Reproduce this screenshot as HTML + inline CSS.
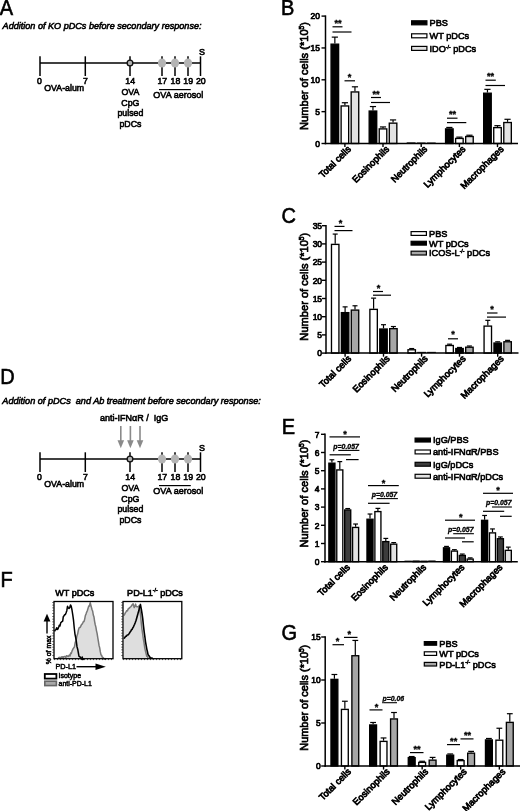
<!DOCTYPE html>
<html><head><meta charset="utf-8"><title>Figure</title>
<style>html,body{margin:0;padding:0;background:#fff}svg{display:block;filter:blur(0.28px)}text{font-family:'Liberation Sans', Arial, Helvetica, sans-serif}</style>
</head><body>
<svg width="520" height="811" viewBox="0 0 520 811">
<rect width="520" height="811" fill="#fff"/>
<text transform="translate(-0.2 15.2) scale(0.9346 1)" font-size="21.4" text-anchor="start" font-weight="normal" fill="#000" stroke="#000" stroke-width="0.6" >A</text>
<text transform="translate(2.6 29) scale(0.9346 1)" font-size="9.74" text-anchor="start" font-weight="normal" font-style="italic" fill="#000" stroke="#000" stroke-width="0.6" >Addition of KO pDCs before secondary response:</text>
<line x1="40" y1="63" x2="200.5" y2="63" stroke="#000" stroke-width="1.5" stroke-linecap="butt"/>
<line x1="40" y1="56.3" x2="40" y2="76" stroke="#000" stroke-width="1.5" stroke-linecap="butt"/>
<line x1="85.3" y1="56.3" x2="85.3" y2="76" stroke="#000" stroke-width="1.5" stroke-linecap="butt"/>
<line x1="130" y1="56.3" x2="130" y2="76" stroke="#000" stroke-width="1.5" stroke-linecap="butt"/>
<line x1="200.5" y1="56.3" x2="200.5" y2="76" stroke="#000" stroke-width="1.5" stroke-linecap="butt"/>
<line x1="162" y1="56.3" x2="162" y2="76" stroke="#000" stroke-width="1.5" stroke-linecap="butt"/>
<ellipse cx="162" cy="63" rx="4.1" ry="4.45" fill="#b4b4b4"/>
<line x1="175" y1="56.3" x2="175" y2="76" stroke="#000" stroke-width="1.5" stroke-linecap="butt"/>
<ellipse cx="175" cy="63" rx="4.1" ry="4.45" fill="#b4b4b4"/>
<line x1="188" y1="56.3" x2="188" y2="76" stroke="#000" stroke-width="1.5" stroke-linecap="butt"/>
<ellipse cx="188" cy="63" rx="4.1" ry="4.45" fill="#b4b4b4"/>
<circle cx="130" cy="63" r="2.85" fill="#b0b0b0" stroke="#111" stroke-width="1.35"/>
<text transform="translate(39.5 83.6) scale(0.9346 1)" font-size="9.31" text-anchor="middle" font-weight="normal" fill="#000" stroke="#000" stroke-width="0.6" >0</text>
<text transform="translate(85.5 83.6) scale(0.9346 1)" font-size="9.31" text-anchor="middle" font-weight="normal" fill="#000" stroke="#000" stroke-width="0.6" >7</text>
<text transform="translate(64.2 91.2) scale(0.9346 1)" font-size="9.42" text-anchor="middle" font-weight="normal" fill="#000" stroke="#000" stroke-width="0.6" >OVA-alum</text>
<text transform="translate(130.2 84.2) scale(0.9346 1)" font-size="9.42" text-anchor="middle" font-weight="normal" fill="#000" stroke="#000" stroke-width="0.6" >14</text>
<text transform="translate(130.4 94.8) scale(0.9346 1)" font-size="9.42" text-anchor="middle" font-weight="normal" fill="#000" stroke="#000" stroke-width="0.6" >OVA</text>
<text transform="translate(130.4 105.5) scale(0.9346 1)" font-size="9.42" text-anchor="middle" font-weight="normal" fill="#000" stroke="#000" stroke-width="0.6" >CpG</text>
<text transform="translate(130.4 116.3) scale(0.9346 1)" font-size="9.42" text-anchor="middle" font-weight="normal" fill="#000" stroke="#000" stroke-width="0.6" >pulsed</text>
<text transform="translate(130.4 127) scale(0.9346 1)" font-size="9.42" text-anchor="middle" font-weight="normal" fill="#000" stroke="#000" stroke-width="0.6" >pDCs</text>
<text transform="translate(162.3 84.2) scale(0.9346 1)" font-size="9.42" text-anchor="middle" font-weight="normal" fill="#000" stroke="#000" stroke-width="0.6" >17</text>
<text transform="translate(175.4 84.2) scale(0.9346 1)" font-size="9.42" text-anchor="middle" font-weight="normal" fill="#000" stroke="#000" stroke-width="0.6" >18</text>
<text transform="translate(188.2 84.2) scale(0.9346 1)" font-size="9.42" text-anchor="middle" font-weight="normal" fill="#000" stroke="#000" stroke-width="0.6" >19</text>
<text transform="translate(200.8 84.2) scale(0.9346 1)" font-size="9.42" text-anchor="middle" font-weight="normal" fill="#000" stroke="#000" stroke-width="0.6" >20</text>
<line x1="159" y1="89.6" x2="190.8" y2="89.6" stroke="#000" stroke-width="1.2" stroke-linecap="butt"/>
<text transform="translate(178.3 98.3) scale(0.9346 1)" font-size="9.68" text-anchor="middle" font-weight="normal" fill="#000" stroke="#000" stroke-width="0.6" >OVA aerosol</text>
<text transform="translate(202 55) scale(0.9346 1)" font-size="9.63" text-anchor="middle" font-weight="normal" fill="#000" stroke="#000" stroke-width="0.6" >S</text>
<text transform="translate(0.3 383.8) scale(0.9346 1)" font-size="21.4" text-anchor="start" font-weight="normal" fill="#000" stroke="#000" stroke-width="0.6" >D</text>
<text transform="translate(2.3 404.3) scale(0.9346 1)" font-size="9.76" text-anchor="start" font-weight="normal" font-style="italic" fill="#000" stroke="#000" stroke-width="0.6" style="white-space:pre">Addition of pDCs&#160; and Ab treatment before secondary response:</text>
<text transform="translate(100 421) scale(0.9346 1)" font-size="9.63" text-anchor="start" font-weight="normal" fill="#000" stroke="#000" stroke-width="0.6" style="white-space:pre">anti-IFN&#945;R /&#160; IgG</text>
<line x1="120.8" y1="426" x2="120.8" y2="442" stroke="#8a8a8a" stroke-width="1.6" stroke-linecap="butt"/>
<path d="M117.5 440.2 L120.8 448.2 L124.1 440.2 Z" fill="#8a8a8a"/>
<line x1="130.4" y1="426" x2="130.4" y2="442" stroke="#8a8a8a" stroke-width="1.6" stroke-linecap="butt"/>
<path d="M127.10000000000001 440.2 L130.4 448.2 L133.70000000000002 440.2 Z" fill="#8a8a8a"/>
<line x1="140" y1="426" x2="140" y2="442" stroke="#8a8a8a" stroke-width="1.6" stroke-linecap="butt"/>
<path d="M136.7 440.2 L140 448.2 L143.3 440.2 Z" fill="#8a8a8a"/>
<line x1="40" y1="459" x2="200.5" y2="459" stroke="#000" stroke-width="1.5" stroke-linecap="butt"/>
<line x1="40" y1="452.3" x2="40" y2="472" stroke="#000" stroke-width="1.5" stroke-linecap="butt"/>
<line x1="85.3" y1="452.3" x2="85.3" y2="472" stroke="#000" stroke-width="1.5" stroke-linecap="butt"/>
<line x1="130" y1="452.3" x2="130" y2="472" stroke="#000" stroke-width="1.5" stroke-linecap="butt"/>
<line x1="200.5" y1="452.3" x2="200.5" y2="472" stroke="#000" stroke-width="1.5" stroke-linecap="butt"/>
<line x1="162" y1="452.3" x2="162" y2="472" stroke="#000" stroke-width="1.5" stroke-linecap="butt"/>
<ellipse cx="162" cy="459" rx="4.1" ry="4.45" fill="#b4b4b4"/>
<line x1="175" y1="452.3" x2="175" y2="472" stroke="#000" stroke-width="1.5" stroke-linecap="butt"/>
<ellipse cx="175" cy="459" rx="4.1" ry="4.45" fill="#b4b4b4"/>
<line x1="188" y1="452.3" x2="188" y2="472" stroke="#000" stroke-width="1.5" stroke-linecap="butt"/>
<ellipse cx="188" cy="459" rx="4.1" ry="4.45" fill="#b4b4b4"/>
<circle cx="130" cy="459" r="2.85" fill="#b0b0b0" stroke="#111" stroke-width="1.35"/>
<text transform="translate(39.5 479.6) scale(0.9346 1)" font-size="9.31" text-anchor="middle" font-weight="normal" fill="#000" stroke="#000" stroke-width="0.6" >0</text>
<text transform="translate(85.5 479.6) scale(0.9346 1)" font-size="9.31" text-anchor="middle" font-weight="normal" fill="#000" stroke="#000" stroke-width="0.6" >7</text>
<text transform="translate(64.2 487.2) scale(0.9346 1)" font-size="9.42" text-anchor="middle" font-weight="normal" fill="#000" stroke="#000" stroke-width="0.6" >OVA-alum</text>
<text transform="translate(130.2 480.2) scale(0.9346 1)" font-size="9.42" text-anchor="middle" font-weight="normal" fill="#000" stroke="#000" stroke-width="0.6" >14</text>
<text transform="translate(130.4 490.8) scale(0.9346 1)" font-size="9.42" text-anchor="middle" font-weight="normal" fill="#000" stroke="#000" stroke-width="0.6" >OVA</text>
<text transform="translate(130.4 501.5) scale(0.9346 1)" font-size="9.42" text-anchor="middle" font-weight="normal" fill="#000" stroke="#000" stroke-width="0.6" >CpG</text>
<text transform="translate(130.4 512.3) scale(0.9346 1)" font-size="9.42" text-anchor="middle" font-weight="normal" fill="#000" stroke="#000" stroke-width="0.6" >pulsed</text>
<text transform="translate(130.4 523) scale(0.9346 1)" font-size="9.42" text-anchor="middle" font-weight="normal" fill="#000" stroke="#000" stroke-width="0.6" >pDCs</text>
<text transform="translate(162.3 480.2) scale(0.9346 1)" font-size="9.42" text-anchor="middle" font-weight="normal" fill="#000" stroke="#000" stroke-width="0.6" >17</text>
<text transform="translate(175.4 480.2) scale(0.9346 1)" font-size="9.42" text-anchor="middle" font-weight="normal" fill="#000" stroke="#000" stroke-width="0.6" >18</text>
<text transform="translate(188.2 480.2) scale(0.9346 1)" font-size="9.42" text-anchor="middle" font-weight="normal" fill="#000" stroke="#000" stroke-width="0.6" >19</text>
<text transform="translate(200.8 480.2) scale(0.9346 1)" font-size="9.42" text-anchor="middle" font-weight="normal" fill="#000" stroke="#000" stroke-width="0.6" >20</text>
<line x1="159" y1="485.6" x2="190.8" y2="485.6" stroke="#000" stroke-width="1.2" stroke-linecap="butt"/>
<text transform="translate(178.3 494.3) scale(0.9346 1)" font-size="9.68" text-anchor="middle" font-weight="normal" fill="#000" stroke="#000" stroke-width="0.6" >OVA aerosol</text>
<text transform="translate(202 451) scale(0.9346 1)" font-size="9.63" text-anchor="middle" font-weight="normal" fill="#000" stroke="#000" stroke-width="0.6" >S</text>
<text transform="translate(280.9 14.5) scale(0.9346 1)" font-size="21.4" text-anchor="start" font-weight="normal" fill="#000" stroke="#000" stroke-width="0.6" >B</text>
<line x1="334.84999999999997" y1="43.491" x2="334.84999999999997" y2="37.12100000000001" stroke="#000" stroke-width="1.2" stroke-linecap="butt"/>
<line x1="331.74999999999994" y1="37.12100000000001" x2="337.95" y2="37.12100000000001" stroke="#000" stroke-width="1.2" stroke-linecap="butt"/>
<rect x="331.07" y="44.17" width="7.55" height="99.33" fill="#000" stroke="#000" stroke-width="1.35"/>
<line x1="344.9" y1="105.28" x2="344.9" y2="102.732" stroke="#000" stroke-width="1.2" stroke-linecap="butt"/>
<line x1="341.79999999999995" y1="102.732" x2="348.0" y2="102.732" stroke="#000" stroke-width="1.2" stroke-linecap="butt"/>
<rect x="341.12" y="105.95" width="7.55" height="37.55" fill="#fff" stroke="#000" stroke-width="1.35"/>
<line x1="354.95" y1="91.266" x2="354.95" y2="86.80699999999999" stroke="#000" stroke-width="1.2" stroke-linecap="butt"/>
<line x1="351.84999999999997" y1="86.80699999999999" x2="358.05" y2="86.80699999999999" stroke="#000" stroke-width="1.2" stroke-linecap="butt"/>
<rect x="351.18" y="91.94" width="7.55" height="51.56" fill="#e2e2e2" stroke="#000" stroke-width="1.35"/>
<line x1="372.95" y1="110.376" x2="372.95" y2="106.554" stroke="#000" stroke-width="1.2" stroke-linecap="butt"/>
<line x1="369.84999999999997" y1="106.554" x2="376.05" y2="106.554" stroke="#000" stroke-width="1.2" stroke-linecap="butt"/>
<rect x="369.18" y="111.05" width="7.55" height="32.45" fill="#000" stroke="#000" stroke-width="1.35"/>
<line x1="383.0" y1="128.212" x2="383.0" y2="126.938" stroke="#000" stroke-width="1.2" stroke-linecap="butt"/>
<line x1="379.9" y1="126.938" x2="386.1" y2="126.938" stroke="#000" stroke-width="1.2" stroke-linecap="butt"/>
<rect x="379.23" y="128.89" width="7.55" height="14.61" fill="#fff" stroke="#000" stroke-width="1.35"/>
<line x1="393.05" y1="122.479" x2="393.05" y2="119.931" stroke="#000" stroke-width="1.2" stroke-linecap="butt"/>
<line x1="389.95" y1="119.931" x2="396.15000000000003" y2="119.931" stroke="#000" stroke-width="1.2" stroke-linecap="butt"/>
<rect x="389.28" y="123.15" width="7.55" height="20.35" fill="#e2e2e2" stroke="#000" stroke-width="1.35"/>
<line x1="406.7" y1="142.863" x2="415.59999999999997" y2="142.863" stroke="#000" stroke-width="1.0" stroke-linecap="butt"/>
<line x1="416.75" y1="143.0" x2="425.65" y2="143.0" stroke="#000" stroke-width="1.0" stroke-linecap="butt"/>
<line x1="426.8" y1="143.0" x2="435.7" y2="143.0" stroke="#000" stroke-width="1.0" stroke-linecap="butt"/>
<line x1="449.34999999999997" y1="128.212" x2="449.34999999999997" y2="127.4476" stroke="#000" stroke-width="1.2" stroke-linecap="butt"/>
<line x1="446.24999999999994" y1="127.4476" x2="452.45" y2="127.4476" stroke="#000" stroke-width="1.2" stroke-linecap="butt"/>
<rect x="445.57" y="128.89" width="7.55" height="14.61" fill="#000" stroke="#000" stroke-width="1.35"/>
<line x1="459.4" y1="137.767" x2="459.4" y2="137.13" stroke="#000" stroke-width="1.2" stroke-linecap="butt"/>
<line x1="456.29999999999995" y1="137.13" x2="462.5" y2="137.13" stroke="#000" stroke-width="1.2" stroke-linecap="butt"/>
<rect x="455.62" y="138.44" width="7.55" height="5.06" fill="#fff" stroke="#000" stroke-width="1.35"/>
<line x1="469.45" y1="135.856" x2="469.45" y2="135.219" stroke="#000" stroke-width="1.2" stroke-linecap="butt"/>
<line x1="466.34999999999997" y1="135.219" x2="472.55" y2="135.219" stroke="#000" stroke-width="1.2" stroke-linecap="butt"/>
<rect x="465.68" y="136.53" width="7.55" height="6.97" fill="#e2e2e2" stroke="#000" stroke-width="1.35"/>
<line x1="487.45" y1="92.53999999999999" x2="487.45" y2="89.35499999999999" stroke="#000" stroke-width="1.2" stroke-linecap="butt"/>
<line x1="484.34999999999997" y1="89.35499999999999" x2="490.55" y2="89.35499999999999" stroke="#000" stroke-width="1.2" stroke-linecap="butt"/>
<rect x="483.68" y="93.21" width="7.55" height="50.29" fill="#000" stroke="#000" stroke-width="1.35"/>
<line x1="497.5" y1="126.938" x2="497.5" y2="125.664" stroke="#000" stroke-width="1.2" stroke-linecap="butt"/>
<line x1="494.4" y1="125.664" x2="500.6" y2="125.664" stroke="#000" stroke-width="1.2" stroke-linecap="butt"/>
<rect x="493.73" y="127.61" width="7.55" height="15.89" fill="#fff" stroke="#000" stroke-width="1.35"/>
<line x1="507.55" y1="121.842" x2="507.55" y2="119.294" stroke="#000" stroke-width="1.2" stroke-linecap="butt"/>
<line x1="504.45" y1="119.294" x2="510.65000000000003" y2="119.294" stroke="#000" stroke-width="1.2" stroke-linecap="butt"/>
<rect x="503.78" y="122.52" width="7.55" height="20.98" fill="#e2e2e2" stroke="#000" stroke-width="1.35"/>
<line x1="325.5" y1="15.399999999999995" x2="325.5" y2="144.25" stroke="#000" stroke-width="1.5" stroke-linecap="butt"/>
<line x1="324.75" y1="143.5" x2="518" y2="143.5" stroke="#000" stroke-width="1.5" stroke-linecap="butt"/>
<line x1="321.5" y1="143.5" x2="325.5" y2="143.5" stroke="#000" stroke-width="1.4" stroke-linecap="butt"/>
<text transform="translate(320.0 146.8) scale(0.9346 1)" font-size="9.1" text-anchor="end" font-weight="normal" fill="#000" stroke="#000" stroke-width="0.7" >0</text>
<line x1="321.5" y1="111.65" x2="325.5" y2="111.65" stroke="#000" stroke-width="1.4" stroke-linecap="butt"/>
<text transform="translate(320.0 114.95) scale(0.9346 1)" font-size="9.1" text-anchor="end" font-weight="normal" fill="#000" stroke="#000" stroke-width="0.7" >5</text>
<line x1="321.5" y1="79.8" x2="325.5" y2="79.8" stroke="#000" stroke-width="1.4" stroke-linecap="butt"/>
<text transform="translate(320.0 83.1) scale(0.9346 1)" font-size="9.1" text-anchor="end" font-weight="normal" fill="#000" stroke="#000" stroke-width="0.7" >10</text>
<line x1="321.5" y1="47.95" x2="325.5" y2="47.95" stroke="#000" stroke-width="1.4" stroke-linecap="butt"/>
<text transform="translate(320.0 51.25) scale(0.9346 1)" font-size="9.1" text-anchor="end" font-weight="normal" fill="#000" stroke="#000" stroke-width="0.7" >15</text>
<line x1="321.5" y1="16.099999999999994" x2="325.5" y2="16.099999999999994" stroke="#000" stroke-width="1.4" stroke-linecap="butt"/>
<text transform="translate(320.0 19.399999999999995) scale(0.9346 1)" font-size="9.1" text-anchor="end" font-weight="normal" fill="#000" stroke="#000" stroke-width="0.7" >20</text>
<line x1="344.9" y1="143.5" x2="344.9" y2="147.1" stroke="#000" stroke-width="1.4" stroke-linecap="butt"/>
<text x="351.59999999999997" y="149.7" font-size="9.3" text-anchor="end" font-weight="normal" transform="rotate(-45 351.59999999999997 149.7)" fill="#000" stroke="#000" stroke-width="0.75" >Total cells</text>
<line x1="383.0" y1="143.5" x2="383.0" y2="147.1" stroke="#000" stroke-width="1.4" stroke-linecap="butt"/>
<text x="389.7" y="149.7" font-size="9.3" text-anchor="end" font-weight="normal" transform="rotate(-45 389.7 149.7)" fill="#000" stroke="#000" stroke-width="0.75" >Eosinophils</text>
<line x1="421.2" y1="143.5" x2="421.2" y2="147.1" stroke="#000" stroke-width="1.4" stroke-linecap="butt"/>
<text x="427.9" y="149.7" font-size="9.3" text-anchor="end" font-weight="normal" transform="rotate(-45 427.9 149.7)" fill="#000" stroke="#000" stroke-width="0.75" >Neutrophils</text>
<line x1="459.4" y1="143.5" x2="459.4" y2="147.1" stroke="#000" stroke-width="1.4" stroke-linecap="butt"/>
<text x="466.09999999999997" y="149.7" font-size="9.3" text-anchor="end" font-weight="normal" transform="rotate(-45 466.09999999999997 149.7)" fill="#000" stroke="#000" stroke-width="0.75" >Lymphocytes</text>
<line x1="497.5" y1="143.5" x2="497.5" y2="147.1" stroke="#000" stroke-width="1.4" stroke-linecap="butt"/>
<text x="504.2" y="149.7" font-size="9.3" text-anchor="end" font-weight="normal" transform="rotate(-45 504.2 149.7)" fill="#000" stroke="#000" stroke-width="0.75" >Macrophages</text>
<text x="307.7" y="76" font-size="11.1" text-anchor="middle" transform="rotate(-90 307.7 76)" fill="#000" stroke="#000" stroke-width="0.7">Number of cells (*10<tspan font-size="6.5" dy="-4">5</tspan><tspan dy="4">)</tspan></text>
<rect x="411.60" y="20.80" width="15.30" height="4.00" fill="#000" stroke="#000" stroke-width="1.2"/>
<text transform="translate(429.5 26.1) scale(0.9346 1)" font-size="9.84" text-anchor="start" font-weight="normal" fill="#000" stroke="#000" stroke-width="0.65" >PBS</text>
<rect x="411.60" y="33.80" width="15.30" height="4.00" fill="#fff" stroke="#000" stroke-width="1.2"/>
<text transform="translate(429.5 39.1) scale(0.9346 1)" font-size="9.84" text-anchor="start" font-weight="normal" fill="#000" stroke="#000" stroke-width="0.65" >WT pDCs</text>
<rect x="411.60" y="46.40" width="15.30" height="4.00" fill="#e2e2e2" stroke="#000" stroke-width="1.2"/>
<text transform="translate(429.5 51.7) scale(0.9346 1)" font-size="9.84" text-anchor="start" font-weight="normal" fill="#000" stroke="#000" stroke-width="0.65" >IDO<tspan font-size="5.5" dy="-3.2">-/-</tspan><tspan dy="3.2"> pDCs</tspan></text>
<text transform="translate(338 25.9) scale(0.9346 1)" font-size="9.84" text-anchor="middle" font-weight="bold" fill="#000" stroke="#000" stroke-width="0.35" >**</text>
<line x1="332.5" y1="26.8" x2="342.5" y2="26.8" stroke="#000" stroke-width="1.2" stroke-linecap="butt"/>
<line x1="332.5" y1="32" x2="351.5" y2="32" stroke="#000" stroke-width="1.2" stroke-linecap="butt"/>
<text transform="translate(349.5 79.9) scale(0.9346 1)" font-size="9.84" text-anchor="middle" font-weight="bold" fill="#000" stroke="#000" stroke-width="0.35" >*</text>
<line x1="344.5" y1="80.8" x2="355" y2="80.8" stroke="#000" stroke-width="1.2" stroke-linecap="butt"/>
<text transform="translate(376 96.60000000000001) scale(0.9346 1)" font-size="9.84" text-anchor="middle" font-weight="bold" fill="#000" stroke="#000" stroke-width="0.35" >**</text>
<line x1="371" y1="97.5" x2="381" y2="97.5" stroke="#000" stroke-width="1.2" stroke-linecap="butt"/>
<line x1="371" y1="102.5" x2="390" y2="102.5" stroke="#000" stroke-width="1.2" stroke-linecap="butt"/>
<text transform="translate(452.5 117.3) scale(0.9346 1)" font-size="9.84" text-anchor="middle" font-weight="bold" fill="#000" stroke="#000" stroke-width="0.35" >**</text>
<line x1="447" y1="118.2" x2="457.5" y2="118.2" stroke="#000" stroke-width="1.2" stroke-linecap="butt"/>
<line x1="447" y1="122.6" x2="466.3" y2="122.6" stroke="#000" stroke-width="1.2" stroke-linecap="butt"/>
<text transform="translate(490.5 79.3) scale(0.9346 1)" font-size="9.84" text-anchor="middle" font-weight="bold" fill="#000" stroke="#000" stroke-width="0.35" >**</text>
<line x1="485.5" y1="80.2" x2="495.8" y2="80.2" stroke="#000" stroke-width="1.2" stroke-linecap="butt"/>
<line x1="485.5" y1="85.5" x2="505" y2="85.5" stroke="#000" stroke-width="1.2" stroke-linecap="butt"/>
<text transform="translate(281.5 222.5) scale(0.9346 1)" font-size="21.4" text-anchor="start" font-weight="normal" fill="#000" stroke="#000" stroke-width="0.6" >C</text>
<line x1="335.2" y1="243.71800000000002" x2="335.2" y2="234.072" stroke="#000" stroke-width="1.2" stroke-linecap="butt"/>
<line x1="332.7" y1="234.072" x2="337.7" y2="234.072" stroke="#000" stroke-width="1.2" stroke-linecap="butt"/>
<rect x="331.48" y="244.39" width="7.45" height="108.71" fill="#fff" stroke="#000" stroke-width="1.35"/>
<line x1="345.09999999999997" y1="311.968" x2="345.09999999999997" y2="306.872" stroke="#000" stroke-width="1.2" stroke-linecap="butt"/>
<line x1="342.59999999999997" y1="306.872" x2="347.59999999999997" y2="306.872" stroke="#000" stroke-width="1.2" stroke-linecap="butt"/>
<rect x="341.38" y="312.64" width="7.45" height="40.46" fill="#000" stroke="#000" stroke-width="1.35"/>
<line x1="355.0" y1="309.42" x2="355.0" y2="305.78000000000003" stroke="#000" stroke-width="1.2" stroke-linecap="butt"/>
<line x1="352.5" y1="305.78000000000003" x2="357.5" y2="305.78000000000003" stroke="#000" stroke-width="1.2" stroke-linecap="butt"/>
<rect x="351.28" y="310.10" width="7.45" height="43.01" fill="#a6a6a6" stroke="#000" stroke-width="1.35"/>
<line x1="373.59999999999997" y1="308.692" x2="373.59999999999997" y2="298.136" stroke="#000" stroke-width="1.2" stroke-linecap="butt"/>
<line x1="371.09999999999997" y1="298.136" x2="376.09999999999997" y2="298.136" stroke="#000" stroke-width="1.2" stroke-linecap="butt"/>
<rect x="369.88" y="309.37" width="7.45" height="43.73" fill="#fff" stroke="#000" stroke-width="1.35"/>
<line x1="383.49999999999994" y1="328.348" x2="383.49999999999994" y2="324.708" stroke="#000" stroke-width="1.2" stroke-linecap="butt"/>
<line x1="380.99999999999994" y1="324.708" x2="385.99999999999994" y2="324.708" stroke="#000" stroke-width="1.2" stroke-linecap="butt"/>
<rect x="379.77" y="329.02" width="7.45" height="24.08" fill="#000" stroke="#000" stroke-width="1.35"/>
<line x1="393.4" y1="327.98400000000004" x2="393.4" y2="326.528" stroke="#000" stroke-width="1.2" stroke-linecap="butt"/>
<line x1="390.9" y1="326.528" x2="395.9" y2="326.528" stroke="#000" stroke-width="1.2" stroke-linecap="butt"/>
<rect x="389.68" y="328.66" width="7.45" height="24.44" fill="#a6a6a6" stroke="#000" stroke-width="1.35"/>
<line x1="411.7" y1="349.096" x2="411.7" y2="348.55" stroke="#000" stroke-width="1.2" stroke-linecap="butt"/>
<line x1="409.2" y1="348.55" x2="414.2" y2="348.55" stroke="#000" stroke-width="1.2" stroke-linecap="butt"/>
<rect x="407.98" y="349.77" width="7.45" height="3.33" fill="#fff" stroke="#000" stroke-width="1.35"/>
<line x1="417.2" y1="352.372" x2="426.0" y2="352.372" stroke="#000" stroke-width="1.0" stroke-linecap="butt"/>
<line x1="427.1" y1="352.372" x2="435.90000000000003" y2="352.372" stroke="#000" stroke-width="1.0" stroke-linecap="butt"/>
<line x1="449.59999999999997" y1="344.8372" x2="449.59999999999997" y2="344.182" stroke="#000" stroke-width="1.2" stroke-linecap="butt"/>
<line x1="447.09999999999997" y1="344.182" x2="452.09999999999997" y2="344.182" stroke="#000" stroke-width="1.2" stroke-linecap="butt"/>
<rect x="445.88" y="345.51" width="7.45" height="7.59" fill="#fff" stroke="#000" stroke-width="1.35"/>
<line x1="459.49999999999994" y1="347.8584" x2="459.49999999999994" y2="347.458" stroke="#000" stroke-width="1.2" stroke-linecap="butt"/>
<line x1="456.99999999999994" y1="347.458" x2="461.99999999999994" y2="347.458" stroke="#000" stroke-width="1.2" stroke-linecap="butt"/>
<rect x="455.77" y="348.53" width="7.45" height="4.57" fill="#000" stroke="#000" stroke-width="1.35"/>
<line x1="469.4" y1="346.548" x2="469.4" y2="346.002" stroke="#000" stroke-width="1.2" stroke-linecap="butt"/>
<line x1="466.9" y1="346.002" x2="471.9" y2="346.002" stroke="#000" stroke-width="1.2" stroke-linecap="butt"/>
<rect x="465.68" y="347.22" width="7.45" height="5.88" fill="#a6a6a6" stroke="#000" stroke-width="1.35"/>
<line x1="487.79999999999995" y1="325.43600000000004" x2="487.79999999999995" y2="320.34000000000003" stroke="#000" stroke-width="1.2" stroke-linecap="butt"/>
<line x1="485.29999999999995" y1="320.34000000000003" x2="490.29999999999995" y2="320.34000000000003" stroke="#000" stroke-width="1.2" stroke-linecap="butt"/>
<rect x="484.07" y="326.11" width="7.45" height="26.99" fill="#fff" stroke="#000" stroke-width="1.35"/>
<line x1="497.69999999999993" y1="342.362" x2="497.69999999999993" y2="341.81600000000003" stroke="#000" stroke-width="1.2" stroke-linecap="butt"/>
<line x1="495.19999999999993" y1="341.81600000000003" x2="500.19999999999993" y2="341.81600000000003" stroke="#000" stroke-width="1.2" stroke-linecap="butt"/>
<rect x="493.97" y="343.04" width="7.45" height="10.06" fill="#000" stroke="#000" stroke-width="1.35"/>
<line x1="507.59999999999997" y1="341.088" x2="507.59999999999997" y2="340.36" stroke="#000" stroke-width="1.2" stroke-linecap="butt"/>
<line x1="505.09999999999997" y1="340.36" x2="510.09999999999997" y2="340.36" stroke="#000" stroke-width="1.2" stroke-linecap="butt"/>
<rect x="503.88" y="341.76" width="7.45" height="11.34" fill="#a6a6a6" stroke="#000" stroke-width="1.35"/>
<line x1="326" y1="225.00000000000003" x2="326" y2="353.85" stroke="#000" stroke-width="1.5" stroke-linecap="butt"/>
<line x1="325.25" y1="353.1" x2="518.5" y2="353.1" stroke="#000" stroke-width="1.5" stroke-linecap="butt"/>
<line x1="322" y1="353.1" x2="326" y2="353.1" stroke="#000" stroke-width="1.4" stroke-linecap="butt"/>
<text transform="translate(322.1 356.40000000000003) scale(0.9346 1)" font-size="9.1" text-anchor="end" font-weight="normal" fill="#000" stroke="#000" stroke-width="0.7" >0</text>
<line x1="322" y1="334.90000000000003" x2="326" y2="334.90000000000003" stroke="#000" stroke-width="1.4" stroke-linecap="butt"/>
<text transform="translate(322.1 338.20000000000005) scale(0.9346 1)" font-size="9.1" text-anchor="end" font-weight="normal" fill="#000" stroke="#000" stroke-width="0.7" >5</text>
<line x1="322" y1="316.70000000000005" x2="326" y2="316.70000000000005" stroke="#000" stroke-width="1.4" stroke-linecap="butt"/>
<text transform="translate(322.1 320.00000000000006) scale(0.9346 1)" font-size="9.1" text-anchor="end" font-weight="normal" fill="#000" stroke="#000" stroke-width="0.7" >10</text>
<line x1="322" y1="298.5" x2="326" y2="298.5" stroke="#000" stroke-width="1.4" stroke-linecap="butt"/>
<text transform="translate(322.1 301.8) scale(0.9346 1)" font-size="9.1" text-anchor="end" font-weight="normal" fill="#000" stroke="#000" stroke-width="0.7" >15</text>
<line x1="322" y1="280.3" x2="326" y2="280.3" stroke="#000" stroke-width="1.4" stroke-linecap="butt"/>
<text transform="translate(322.1 283.6) scale(0.9346 1)" font-size="9.1" text-anchor="end" font-weight="normal" fill="#000" stroke="#000" stroke-width="0.7" >20</text>
<line x1="322" y1="262.1" x2="326" y2="262.1" stroke="#000" stroke-width="1.4" stroke-linecap="butt"/>
<text transform="translate(322.1 265.40000000000003) scale(0.9346 1)" font-size="9.1" text-anchor="end" font-weight="normal" fill="#000" stroke="#000" stroke-width="0.7" >25</text>
<line x1="322" y1="243.90000000000003" x2="326" y2="243.90000000000003" stroke="#000" stroke-width="1.4" stroke-linecap="butt"/>
<text transform="translate(322.1 247.20000000000005) scale(0.9346 1)" font-size="9.1" text-anchor="end" font-weight="normal" fill="#000" stroke="#000" stroke-width="0.7" >30</text>
<line x1="322" y1="225.70000000000002" x2="326" y2="225.70000000000002" stroke="#000" stroke-width="1.4" stroke-linecap="butt"/>
<text transform="translate(322.1 229.00000000000003) scale(0.9346 1)" font-size="9.1" text-anchor="end" font-weight="normal" fill="#000" stroke="#000" stroke-width="0.7" >35</text>
<line x1="345.1" y1="353.1" x2="345.1" y2="356.70000000000005" stroke="#000" stroke-width="1.4" stroke-linecap="butt"/>
<text x="351.8" y="359.3" font-size="9.3" text-anchor="end" font-weight="normal" transform="rotate(-45 351.8 359.3)" fill="#000" stroke="#000" stroke-width="0.75" >Total cells</text>
<line x1="383.5" y1="353.1" x2="383.5" y2="356.70000000000005" stroke="#000" stroke-width="1.4" stroke-linecap="butt"/>
<text x="390.2" y="359.3" font-size="9.3" text-anchor="end" font-weight="normal" transform="rotate(-45 390.2 359.3)" fill="#000" stroke="#000" stroke-width="0.75" >Eosinophils</text>
<line x1="421.6" y1="353.1" x2="421.6" y2="356.70000000000005" stroke="#000" stroke-width="1.4" stroke-linecap="butt"/>
<text x="428.3" y="359.3" font-size="9.3" text-anchor="end" font-weight="normal" transform="rotate(-45 428.3 359.3)" fill="#000" stroke="#000" stroke-width="0.75" >Neutrophils</text>
<line x1="459.5" y1="353.1" x2="459.5" y2="356.70000000000005" stroke="#000" stroke-width="1.4" stroke-linecap="butt"/>
<text x="466.2" y="359.3" font-size="9.3" text-anchor="end" font-weight="normal" transform="rotate(-45 466.2 359.3)" fill="#000" stroke="#000" stroke-width="0.75" >Lymphocytes</text>
<line x1="497.7" y1="353.1" x2="497.7" y2="356.70000000000005" stroke="#000" stroke-width="1.4" stroke-linecap="butt"/>
<text x="504.4" y="359.3" font-size="9.3" text-anchor="end" font-weight="normal" transform="rotate(-45 504.4 359.3)" fill="#000" stroke="#000" stroke-width="0.75" >Macrophages</text>
<text x="307.8" y="286.7" font-size="11.1" text-anchor="middle" transform="rotate(-90 307.8 286.7)" fill="#000" stroke="#000" stroke-width="0.7">Number of cells (*10<tspan font-size="6.5" dy="-4">5</tspan><tspan dy="4">)</tspan></text>
<rect x="411.10" y="231.60" width="15.30" height="3.80" fill="#fff" stroke="#000" stroke-width="1.2"/>
<text transform="translate(429 236.8) scale(0.9346 1)" font-size="9.84" text-anchor="start" font-weight="normal" fill="#000" stroke="#000" stroke-width="0.65" >PBS</text>
<rect x="411.10" y="241.30" width="15.30" height="3.80" fill="#000" stroke="#000" stroke-width="1.2"/>
<text transform="translate(429 246.5) scale(0.9346 1)" font-size="9.84" text-anchor="start" font-weight="normal" fill="#000" stroke="#000" stroke-width="0.65" >WT pDCs</text>
<rect x="411.10" y="251.20" width="15.30" height="3.80" fill="#a6a6a6" stroke="#000" stroke-width="1.2"/>
<text transform="translate(429 256.4) scale(0.9346 1)" font-size="9.84" text-anchor="start" font-weight="normal" fill="#000" stroke="#000" stroke-width="0.65" >ICOS-L<tspan font-size="5.5" dy="-3.2">-/-</tspan><tspan dy="3.2"> pDCs</tspan></text>
<text transform="translate(281.7 433.5) scale(0.9346 1)" font-size="21.4" text-anchor="start" font-weight="normal" fill="#000" stroke="#000" stroke-width="0.6" >E</text>
<line x1="331.9" y1="462.51000000000005" x2="331.9" y2="459.7800000000001" stroke="#000" stroke-width="1.2" stroke-linecap="butt"/>
<line x1="329.5" y1="459.7800000000001" x2="334.29999999999995" y2="459.7800000000001" stroke="#000" stroke-width="1.2" stroke-linecap="butt"/>
<rect x="328.88" y="463.19" width="6.05" height="98.52" fill="#000" stroke="#000" stroke-width="1.35"/>
<line x1="339.79999999999995" y1="469.244" x2="339.79999999999995" y2="461.6" stroke="#000" stroke-width="1.2" stroke-linecap="butt"/>
<line x1="337.4" y1="461.6" x2="342.19999999999993" y2="461.6" stroke="#000" stroke-width="1.2" stroke-linecap="butt"/>
<rect x="336.77" y="469.92" width="6.05" height="91.78" fill="#fff" stroke="#000" stroke-width="1.35"/>
<line x1="347.7" y1="509.28400000000005" x2="347.7" y2="508.55600000000004" stroke="#000" stroke-width="1.2" stroke-linecap="butt"/>
<line x1="345.3" y1="508.55600000000004" x2="350.09999999999997" y2="508.55600000000004" stroke="#000" stroke-width="1.2" stroke-linecap="butt"/>
<rect x="344.68" y="509.96" width="6.05" height="51.74" fill="#3c3c3c" stroke="#000" stroke-width="1.35"/>
<line x1="355.59999999999997" y1="526.7560000000001" x2="355.59999999999997" y2="524.0260000000001" stroke="#000" stroke-width="1.2" stroke-linecap="butt"/>
<line x1="353.2" y1="524.0260000000001" x2="357.99999999999994" y2="524.0260000000001" stroke="#000" stroke-width="1.2" stroke-linecap="butt"/>
<rect x="352.57" y="527.43" width="6.05" height="34.27" fill="#e2e2e2" stroke="#000" stroke-width="1.35"/>
<line x1="370.0" y1="518.566" x2="370.0" y2="514.0160000000001" stroke="#000" stroke-width="1.2" stroke-linecap="butt"/>
<line x1="367.6" y1="514.0160000000001" x2="372.4" y2="514.0160000000001" stroke="#000" stroke-width="1.2" stroke-linecap="butt"/>
<rect x="366.98" y="519.24" width="6.05" height="42.46" fill="#000" stroke="#000" stroke-width="1.35"/>
<line x1="377.9" y1="510.922" x2="377.9" y2="508.374" stroke="#000" stroke-width="1.2" stroke-linecap="butt"/>
<line x1="375.5" y1="508.374" x2="380.29999999999995" y2="508.374" stroke="#000" stroke-width="1.2" stroke-linecap="butt"/>
<rect x="374.88" y="511.60" width="6.05" height="50.10" fill="#fff" stroke="#000" stroke-width="1.35"/>
<line x1="385.8" y1="540.952" x2="385.8" y2="538.404" stroke="#000" stroke-width="1.2" stroke-linecap="butt"/>
<line x1="383.40000000000003" y1="538.404" x2="388.2" y2="538.404" stroke="#000" stroke-width="1.2" stroke-linecap="butt"/>
<rect x="382.78" y="541.63" width="6.05" height="20.07" fill="#3c3c3c" stroke="#000" stroke-width="1.35"/>
<line x1="393.7" y1="543.5" x2="393.7" y2="542.59" stroke="#000" stroke-width="1.2" stroke-linecap="butt"/>
<line x1="391.3" y1="542.59" x2="396.09999999999997" y2="542.59" stroke="#000" stroke-width="1.2" stroke-linecap="butt"/>
<rect x="390.68" y="544.17" width="6.05" height="17.53" fill="#e2e2e2" stroke="#000" stroke-width="1.35"/>
<line x1="404.5" y1="561.154" x2="411.9" y2="561.154" stroke="#000" stroke-width="1.0" stroke-linecap="butt"/>
<rect x="413.07" y="561.10" width="6.05" height="0.60" fill="#fff" stroke="#000" stroke-width="1.35"/>
<rect x="420.98" y="561.28" width="6.05" height="0.42" fill="#3c3c3c" stroke="#000" stroke-width="1.35"/>
<line x1="428.2" y1="560.9720000000001" x2="435.59999999999997" y2="560.9720000000001" stroke="#000" stroke-width="1.0" stroke-linecap="butt"/>
<line x1="446.5" y1="547.1400000000001" x2="446.5" y2="546.412" stroke="#000" stroke-width="1.2" stroke-linecap="butt"/>
<line x1="444.1" y1="546.412" x2="448.9" y2="546.412" stroke="#000" stroke-width="1.2" stroke-linecap="butt"/>
<rect x="443.48" y="547.82" width="6.05" height="13.88" fill="#000" stroke="#000" stroke-width="1.35"/>
<line x1="454.4" y1="550.416" x2="454.4" y2="549.6880000000001" stroke="#000" stroke-width="1.2" stroke-linecap="butt"/>
<line x1="452.0" y1="549.6880000000001" x2="456.79999999999995" y2="549.6880000000001" stroke="#000" stroke-width="1.2" stroke-linecap="butt"/>
<rect x="451.38" y="551.09" width="6.05" height="10.61" fill="#fff" stroke="#000" stroke-width="1.35"/>
<line x1="462.3" y1="554.784" x2="462.3" y2="554.056" stroke="#000" stroke-width="1.2" stroke-linecap="butt"/>
<line x1="459.90000000000003" y1="554.056" x2="464.7" y2="554.056" stroke="#000" stroke-width="1.2" stroke-linecap="butt"/>
<rect x="459.28" y="555.46" width="6.05" height="6.24" fill="#3c3c3c" stroke="#000" stroke-width="1.35"/>
<line x1="470.2" y1="558.4240000000001" x2="470.2" y2="557.878" stroke="#000" stroke-width="1.2" stroke-linecap="butt"/>
<line x1="467.8" y1="557.878" x2="472.59999999999997" y2="557.878" stroke="#000" stroke-width="1.2" stroke-linecap="butt"/>
<rect x="467.18" y="559.10" width="6.05" height="2.60" fill="#e2e2e2" stroke="#000" stroke-width="1.35"/>
<line x1="484.59999999999997" y1="519.658" x2="484.59999999999997" y2="515.4720000000001" stroke="#000" stroke-width="1.2" stroke-linecap="butt"/>
<line x1="482.2" y1="515.4720000000001" x2="486.99999999999994" y2="515.4720000000001" stroke="#000" stroke-width="1.2" stroke-linecap="butt"/>
<rect x="481.57" y="520.33" width="6.05" height="41.37" fill="#000" stroke="#000" stroke-width="1.35"/>
<line x1="492.49999999999994" y1="532.216" x2="492.49999999999994" y2="528.94" stroke="#000" stroke-width="1.2" stroke-linecap="butt"/>
<line x1="490.09999999999997" y1="528.94" x2="494.8999999999999" y2="528.94" stroke="#000" stroke-width="1.2" stroke-linecap="butt"/>
<rect x="489.47" y="532.89" width="6.05" height="28.81" fill="#fff" stroke="#000" stroke-width="1.35"/>
<line x1="500.4" y1="538.0400000000001" x2="500.4" y2="536.9480000000001" stroke="#000" stroke-width="1.2" stroke-linecap="butt"/>
<line x1="498.0" y1="536.9480000000001" x2="502.79999999999995" y2="536.9480000000001" stroke="#000" stroke-width="1.2" stroke-linecap="butt"/>
<rect x="497.38" y="538.72" width="6.05" height="22.98" fill="#3c3c3c" stroke="#000" stroke-width="1.35"/>
<line x1="508.29999999999995" y1="549.6880000000001" x2="508.29999999999995" y2="547.1400000000001" stroke="#000" stroke-width="1.2" stroke-linecap="butt"/>
<line x1="505.9" y1="547.1400000000001" x2="510.69999999999993" y2="547.1400000000001" stroke="#000" stroke-width="1.2" stroke-linecap="butt"/>
<rect x="505.27" y="550.36" width="6.05" height="11.34" fill="#e2e2e2" stroke="#000" stroke-width="1.35"/>
<line x1="325" y1="433.6000000000001" x2="325" y2="562.45" stroke="#000" stroke-width="1.5" stroke-linecap="butt"/>
<line x1="324.25" y1="561.7" x2="517.8" y2="561.7" stroke="#000" stroke-width="1.5" stroke-linecap="butt"/>
<line x1="321" y1="561.7" x2="325" y2="561.7" stroke="#000" stroke-width="1.4" stroke-linecap="butt"/>
<text transform="translate(319.5 565.0) scale(0.9346 1)" font-size="9.1" text-anchor="end" font-weight="normal" fill="#000" stroke="#000" stroke-width="0.7" >0</text>
<line x1="321" y1="543.5" x2="325" y2="543.5" stroke="#000" stroke-width="1.4" stroke-linecap="butt"/>
<text transform="translate(319.5 546.8) scale(0.9346 1)" font-size="9.1" text-anchor="end" font-weight="normal" fill="#000" stroke="#000" stroke-width="0.7" >1</text>
<line x1="321" y1="525.3000000000001" x2="325" y2="525.3000000000001" stroke="#000" stroke-width="1.4" stroke-linecap="butt"/>
<text transform="translate(319.5 528.6) scale(0.9346 1)" font-size="9.1" text-anchor="end" font-weight="normal" fill="#000" stroke="#000" stroke-width="0.7" >2</text>
<line x1="321" y1="507.1" x2="325" y2="507.1" stroke="#000" stroke-width="1.4" stroke-linecap="butt"/>
<text transform="translate(319.5 510.40000000000003) scale(0.9346 1)" font-size="9.1" text-anchor="end" font-weight="normal" fill="#000" stroke="#000" stroke-width="0.7" >3</text>
<line x1="321" y1="488.90000000000003" x2="325" y2="488.90000000000003" stroke="#000" stroke-width="1.4" stroke-linecap="butt"/>
<text transform="translate(319.5 492.20000000000005) scale(0.9346 1)" font-size="9.1" text-anchor="end" font-weight="normal" fill="#000" stroke="#000" stroke-width="0.7" >4</text>
<line x1="321" y1="470.70000000000005" x2="325" y2="470.70000000000005" stroke="#000" stroke-width="1.4" stroke-linecap="butt"/>
<text transform="translate(319.5 474.00000000000006) scale(0.9346 1)" font-size="9.1" text-anchor="end" font-weight="normal" fill="#000" stroke="#000" stroke-width="0.7" >5</text>
<line x1="321" y1="452.50000000000006" x2="325" y2="452.50000000000006" stroke="#000" stroke-width="1.4" stroke-linecap="butt"/>
<text transform="translate(319.5 455.80000000000007) scale(0.9346 1)" font-size="9.1" text-anchor="end" font-weight="normal" fill="#000" stroke="#000" stroke-width="0.7" >6</text>
<line x1="321" y1="434.30000000000007" x2="325" y2="434.30000000000007" stroke="#000" stroke-width="1.4" stroke-linecap="butt"/>
<text transform="translate(319.5 437.6000000000001) scale(0.9346 1)" font-size="9.1" text-anchor="end" font-weight="normal" fill="#000" stroke="#000" stroke-width="0.7" >7</text>
<text x="350.45" y="567.9000000000001" font-size="9.3" text-anchor="end" font-weight="normal" transform="rotate(-45 350.45 567.9000000000001)" fill="#000" stroke="#000" stroke-width="0.75" >Total cells</text>
<text x="388.55" y="567.9000000000001" font-size="9.3" text-anchor="end" font-weight="normal" transform="rotate(-45 388.55 567.9000000000001)" fill="#000" stroke="#000" stroke-width="0.75" >Eosinophils</text>
<text x="426.75" y="567.9000000000001" font-size="9.3" text-anchor="end" font-weight="normal" transform="rotate(-45 426.75 567.9000000000001)" fill="#000" stroke="#000" stroke-width="0.75" >Neutrophils</text>
<text x="465.05" y="567.9000000000001" font-size="9.3" text-anchor="end" font-weight="normal" transform="rotate(-45 465.05 567.9000000000001)" fill="#000" stroke="#000" stroke-width="0.75" >Lymphocytes</text>
<text x="503.15" y="567.9000000000001" font-size="9.3" text-anchor="end" font-weight="normal" transform="rotate(-45 503.15 567.9000000000001)" fill="#000" stroke="#000" stroke-width="0.75" >Macrophages</text>
<text x="307.8" y="493.5" font-size="11.1" text-anchor="middle" transform="rotate(-90 307.8 493.5)" fill="#000" stroke="#000" stroke-width="0.7">Number of cells (*10<tspan font-size="6.5" dy="-4">5</tspan><tspan dy="4">)</tspan></text>
<rect x="415.10" y="438.10" width="15.30" height="3.90" fill="#000" stroke="#000" stroke-width="1.2"/>
<text transform="translate(433 443.35) scale(0.9346 1)" font-size="9.84" text-anchor="start" font-weight="normal" fill="#000" stroke="#000" stroke-width="0.65" >IgG/PBS</text>
<rect x="415.10" y="450.00" width="15.30" height="3.90" fill="#fff" stroke="#000" stroke-width="1.2"/>
<text transform="translate(433 455.25) scale(0.9346 1)" font-size="9.84" text-anchor="start" font-weight="normal" fill="#000" stroke="#000" stroke-width="0.65" >anti-IFN&#945;R/PBS</text>
<rect x="415.10" y="462.30" width="15.30" height="3.90" fill="#3c3c3c" stroke="#000" stroke-width="1.2"/>
<text transform="translate(433 467.55) scale(0.9346 1)" font-size="9.84" text-anchor="start" font-weight="normal" fill="#000" stroke="#000" stroke-width="0.65" >IgG/pDCs</text>
<rect x="415.10" y="474.30" width="15.30" height="3.90" fill="#e2e2e2" stroke="#000" stroke-width="1.2"/>
<text transform="translate(433 479.55) scale(0.9346 1)" font-size="9.84" text-anchor="start" font-weight="normal" fill="#000" stroke="#000" stroke-width="0.65" >anti-IFN&#945;R/pDCs</text>
<text transform="translate(281.5 639.9) scale(0.9346 1)" font-size="21.4" text-anchor="start" font-weight="normal" fill="#000" stroke="#000" stroke-width="0.6" >G</text>
<line x1="334.40000000000003" y1="678.71" x2="334.40000000000003" y2="674.496" stroke="#000" stroke-width="1.2" stroke-linecap="butt"/>
<line x1="331.50000000000006" y1="674.496" x2="337.3" y2="674.496" stroke="#000" stroke-width="1.2" stroke-linecap="butt"/>
<rect x="330.98" y="679.38" width="6.85" height="86.61" fill="#000" stroke="#000" stroke-width="1.35"/>
<line x1="344.85" y1="708.724" x2="344.85" y2="701.242" stroke="#000" stroke-width="1.2" stroke-linecap="butt"/>
<line x1="341.95000000000005" y1="701.242" x2="347.75" y2="701.242" stroke="#000" stroke-width="1.2" stroke-linecap="butt"/>
<rect x="341.43" y="709.40" width="6.85" height="56.60" fill="#fff" stroke="#000" stroke-width="1.35"/>
<line x1="355.3" y1="655.06" x2="355.3" y2="640.44" stroke="#000" stroke-width="1.2" stroke-linecap="butt"/>
<line x1="352.40000000000003" y1="640.44" x2="358.2" y2="640.44" stroke="#000" stroke-width="1.2" stroke-linecap="butt"/>
<rect x="351.88" y="655.73" width="6.85" height="110.27" fill="#a6a6a6" stroke="#000" stroke-width="1.35"/>
<line x1="373.1" y1="724.29" x2="373.1" y2="722.484" stroke="#000" stroke-width="1.2" stroke-linecap="butt"/>
<line x1="370.20000000000005" y1="722.484" x2="376.0" y2="722.484" stroke="#000" stroke-width="1.2" stroke-linecap="butt"/>
<rect x="369.68" y="724.96" width="6.85" height="41.04" fill="#000" stroke="#000" stroke-width="1.35"/>
<line x1="383.55" y1="740.716" x2="383.55" y2="737.964" stroke="#000" stroke-width="1.2" stroke-linecap="butt"/>
<line x1="380.65000000000003" y1="737.964" x2="386.45" y2="737.964" stroke="#000" stroke-width="1.2" stroke-linecap="butt"/>
<rect x="380.12" y="741.39" width="6.85" height="24.61" fill="#fff" stroke="#000" stroke-width="1.35"/>
<line x1="394.0" y1="718.27" x2="394.0" y2="712.508" stroke="#000" stroke-width="1.2" stroke-linecap="butt"/>
<line x1="391.1" y1="712.508" x2="396.9" y2="712.508" stroke="#000" stroke-width="1.2" stroke-linecap="butt"/>
<rect x="390.57" y="718.94" width="6.85" height="47.06" fill="#a6a6a6" stroke="#000" stroke-width="1.35"/>
<line x1="411.70000000000005" y1="756.97" x2="411.70000000000005" y2="756.54" stroke="#000" stroke-width="1.2" stroke-linecap="butt"/>
<line x1="408.80000000000007" y1="756.54" x2="414.6" y2="756.54" stroke="#000" stroke-width="1.2" stroke-linecap="butt"/>
<rect x="408.28" y="757.64" width="6.85" height="8.35" fill="#000" stroke="#000" stroke-width="1.35"/>
<line x1="422.15000000000003" y1="761.7" x2="422.15000000000003" y2="761.27" stroke="#000" stroke-width="1.2" stroke-linecap="butt"/>
<line x1="419.25000000000006" y1="761.27" x2="425.05" y2="761.27" stroke="#000" stroke-width="1.2" stroke-linecap="butt"/>
<rect x="418.73" y="762.38" width="6.85" height="3.62" fill="#fff" stroke="#000" stroke-width="1.35"/>
<line x1="432.6" y1="759.464" x2="432.6" y2="757.4" stroke="#000" stroke-width="1.2" stroke-linecap="butt"/>
<line x1="429.70000000000005" y1="757.4" x2="435.5" y2="757.4" stroke="#000" stroke-width="1.2" stroke-linecap="butt"/>
<rect x="429.18" y="760.14" width="6.85" height="5.86" fill="#a6a6a6" stroke="#000" stroke-width="1.35"/>
<line x1="450.20000000000005" y1="754.476" x2="450.20000000000005" y2="753.96" stroke="#000" stroke-width="1.2" stroke-linecap="butt"/>
<line x1="447.30000000000007" y1="753.96" x2="453.1" y2="753.96" stroke="#000" stroke-width="1.2" stroke-linecap="butt"/>
<rect x="446.78" y="755.15" width="6.85" height="10.85" fill="#000" stroke="#000" stroke-width="1.35"/>
<line x1="460.65000000000003" y1="759.98" x2="460.65000000000003" y2="759.55" stroke="#000" stroke-width="1.2" stroke-linecap="butt"/>
<line x1="457.75000000000006" y1="759.55" x2="463.55" y2="759.55" stroke="#000" stroke-width="1.2" stroke-linecap="butt"/>
<rect x="457.23" y="760.65" width="6.85" height="5.34" fill="#fff" stroke="#000" stroke-width="1.35"/>
<line x1="471.1" y1="752.498" x2="471.1" y2="751.38" stroke="#000" stroke-width="1.2" stroke-linecap="butt"/>
<line x1="468.20000000000005" y1="751.38" x2="474.0" y2="751.38" stroke="#000" stroke-width="1.2" stroke-linecap="butt"/>
<rect x="467.68" y="753.17" width="6.85" height="12.83" fill="#a6a6a6" stroke="#000" stroke-width="1.35"/>
<line x1="488.90000000000003" y1="739.254" x2="488.90000000000003" y2="738.48" stroke="#000" stroke-width="1.2" stroke-linecap="butt"/>
<line x1="486.00000000000006" y1="738.48" x2="491.8" y2="738.48" stroke="#000" stroke-width="1.2" stroke-linecap="butt"/>
<rect x="485.48" y="739.93" width="6.85" height="26.07" fill="#000" stroke="#000" stroke-width="1.35"/>
<line x1="499.35" y1="739.512" x2="499.35" y2="728.246" stroke="#000" stroke-width="1.2" stroke-linecap="butt"/>
<line x1="496.45000000000005" y1="728.246" x2="502.25" y2="728.246" stroke="#000" stroke-width="1.2" stroke-linecap="butt"/>
<rect x="495.93" y="740.19" width="6.85" height="25.81" fill="#fff" stroke="#000" stroke-width="1.35"/>
<line x1="509.8" y1="721.71" x2="509.8" y2="713.712" stroke="#000" stroke-width="1.2" stroke-linecap="butt"/>
<line x1="506.90000000000003" y1="713.712" x2="512.7" y2="713.712" stroke="#000" stroke-width="1.2" stroke-linecap="butt"/>
<rect x="506.38" y="722.38" width="6.85" height="43.61" fill="#a6a6a6" stroke="#000" stroke-width="1.35"/>
<line x1="325.2" y1="636.3" x2="325.2" y2="766.75" stroke="#000" stroke-width="1.5" stroke-linecap="butt"/>
<line x1="324.45" y1="766" x2="520" y2="766" stroke="#000" stroke-width="1.5" stroke-linecap="butt"/>
<line x1="321.2" y1="766.0" x2="325.2" y2="766.0" stroke="#000" stroke-width="1.4" stroke-linecap="butt"/>
<text transform="translate(320.8 769.3) scale(0.9346 1)" font-size="9.1" text-anchor="end" font-weight="normal" fill="#000" stroke="#000" stroke-width="0.7" >0</text>
<line x1="321.2" y1="723.0" x2="325.2" y2="723.0" stroke="#000" stroke-width="1.4" stroke-linecap="butt"/>
<text transform="translate(320.8 726.3) scale(0.9346 1)" font-size="9.1" text-anchor="end" font-weight="normal" fill="#000" stroke="#000" stroke-width="0.7" >5</text>
<line x1="321.2" y1="680.0" x2="325.2" y2="680.0" stroke="#000" stroke-width="1.4" stroke-linecap="butt"/>
<text transform="translate(320.8 683.3) scale(0.9346 1)" font-size="9.1" text-anchor="end" font-weight="normal" fill="#000" stroke="#000" stroke-width="0.7" >10</text>
<line x1="321.2" y1="637.0" x2="325.2" y2="637.0" stroke="#000" stroke-width="1.4" stroke-linecap="butt"/>
<text transform="translate(320.8 640.3) scale(0.9346 1)" font-size="9.1" text-anchor="end" font-weight="normal" fill="#000" stroke="#000" stroke-width="0.7" >15</text>
<line x1="344.85" y1="766" x2="344.85" y2="769.6" stroke="#000" stroke-width="1.4" stroke-linecap="butt"/>
<text x="351.55" y="772.2" font-size="9.3" text-anchor="end" font-weight="normal" transform="rotate(-45 351.55 772.2)" fill="#000" stroke="#000" stroke-width="0.75" >Total cells</text>
<line x1="383.55" y1="766" x2="383.55" y2="769.6" stroke="#000" stroke-width="1.4" stroke-linecap="butt"/>
<text x="390.25" y="772.2" font-size="9.3" text-anchor="end" font-weight="normal" transform="rotate(-45 390.25 772.2)" fill="#000" stroke="#000" stroke-width="0.75" >Eosinophils</text>
<line x1="422.15000000000003" y1="766" x2="422.15000000000003" y2="769.6" stroke="#000" stroke-width="1.4" stroke-linecap="butt"/>
<text x="428.85" y="772.2" font-size="9.3" text-anchor="end" font-weight="normal" transform="rotate(-45 428.85 772.2)" fill="#000" stroke="#000" stroke-width="0.75" >Neutrophils</text>
<line x1="460.65000000000003" y1="766" x2="460.65000000000003" y2="769.6" stroke="#000" stroke-width="1.4" stroke-linecap="butt"/>
<text x="467.35" y="772.2" font-size="9.3" text-anchor="end" font-weight="normal" transform="rotate(-45 467.35 772.2)" fill="#000" stroke="#000" stroke-width="0.75" >Lymphocytes</text>
<line x1="499.35" y1="766" x2="499.35" y2="769.6" stroke="#000" stroke-width="1.4" stroke-linecap="butt"/>
<text x="506.05" y="772.2" font-size="9.3" text-anchor="end" font-weight="normal" transform="rotate(-45 506.05 772.2)" fill="#000" stroke="#000" stroke-width="0.75" >Macrophages</text>
<text x="307.8" y="697.7" font-size="10.9" text-anchor="middle" transform="rotate(-90 307.8 697.7)" fill="#000" stroke="#000" stroke-width="0.7">Number of cells (*10<tspan font-size="6.5" dy="-4">5</tspan><tspan dy="4">)</tspan></text>
<rect x="424.30" y="641.60" width="12.30" height="3.60" fill="#000" stroke="#000" stroke-width="1.2"/>
<text transform="translate(439.3 646.7) scale(0.9346 1)" font-size="9.84" text-anchor="start" font-weight="normal" fill="#000" stroke="#000" stroke-width="0.65" >PBS</text>
<rect x="424.30" y="651.80" width="12.30" height="3.60" fill="#fff" stroke="#000" stroke-width="1.2"/>
<text transform="translate(439.3 656.9) scale(0.9346 1)" font-size="9.84" text-anchor="start" font-weight="normal" fill="#000" stroke="#000" stroke-width="0.65" >WT pDCs</text>
<rect x="424.30" y="662.40" width="12.30" height="3.60" fill="#a6a6a6" stroke="#000" stroke-width="1.2"/>
<text transform="translate(439.3 667.5) scale(0.9346 1)" font-size="9.84" text-anchor="start" font-weight="normal" fill="#000" stroke="#000" stroke-width="0.65" >PD-L1<tspan font-size="5.5" dy="-3.2">-/-</tspan><tspan dy="3.2"> pDCs</tspan></text>
<text transform="translate(340.5 225.79999999999998) scale(0.9346 1)" font-size="9.84" text-anchor="middle" font-weight="bold" fill="#000" stroke="#000" stroke-width="0.35" >*</text>
<line x1="334.5" y1="226.4" x2="344.5" y2="226.4" stroke="#000" stroke-width="1.2" stroke-linecap="butt"/>
<line x1="334.5" y1="230.6" x2="352.5" y2="230.6" stroke="#000" stroke-width="1.2" stroke-linecap="butt"/>
<text transform="translate(378.5 290.8) scale(0.9346 1)" font-size="9.84" text-anchor="middle" font-weight="bold" fill="#000" stroke="#000" stroke-width="0.35" >*</text>
<line x1="373" y1="291.5" x2="383" y2="291.5" stroke="#000" stroke-width="1.2" stroke-linecap="butt"/>
<line x1="373" y1="295.2" x2="391" y2="295.2" stroke="#000" stroke-width="1.2" stroke-linecap="butt"/>
<text transform="translate(453 337.2) scale(0.9346 1)" font-size="9.84" text-anchor="middle" font-weight="bold" fill="#000" stroke="#000" stroke-width="0.35" >*</text>
<line x1="448" y1="338.8" x2="458" y2="338.8" stroke="#000" stroke-width="1.2" stroke-linecap="butt"/>
<text transform="translate(492 312.3) scale(0.9346 1)" font-size="9.84" text-anchor="middle" font-weight="bold" fill="#000" stroke="#000" stroke-width="0.35" >*</text>
<line x1="487" y1="313" x2="497.5" y2="313" stroke="#000" stroke-width="1.2" stroke-linecap="butt"/>
<line x1="487" y1="317.1" x2="506" y2="317.1" stroke="#000" stroke-width="1.2" stroke-linecap="butt"/>
<text transform="translate(345 436.9) scale(0.9346 1)" font-size="9.84" text-anchor="middle" font-weight="bold" fill="#000" stroke="#000" stroke-width="0.35" >*</text>
<line x1="329.5" y1="436.9" x2="360" y2="436.9" stroke="#000" stroke-width="1.2" stroke-linecap="butt"/>
<text transform="translate(358.8 449.1) scale(0.9346 1)" font-size="7.38" text-anchor="end" font-weight="bold" font-style="italic" fill="#000" stroke="#000" stroke-width="0.35" >p=0.057</text>
<line x1="338.3" y1="450.4" x2="359.4" y2="450.4" stroke="#000" stroke-width="1.1" stroke-linecap="butt"/>
<line x1="329.6" y1="454.8" x2="350.8" y2="454.8" stroke="#000" stroke-width="1.2" stroke-linecap="butt"/>
<line x1="346" y1="459.6" x2="358.6" y2="459.6" stroke="#000" stroke-width="1.2" stroke-linecap="butt"/>
<text transform="translate(383.5 485.59999999999997) scale(0.9346 1)" font-size="9.84" text-anchor="middle" font-weight="bold" fill="#000" stroke="#000" stroke-width="0.35" >*</text>
<line x1="368" y1="485.6" x2="398.8" y2="485.6" stroke="#000" stroke-width="1.2" stroke-linecap="butt"/>
<text transform="translate(397.2 497.4) scale(0.9346 1)" font-size="7.38" text-anchor="end" font-weight="bold" font-style="italic" fill="#000" stroke="#000" stroke-width="0.35" >p=0.057</text>
<line x1="376.7" y1="498.6" x2="397.9" y2="498.6" stroke="#000" stroke-width="1.1" stroke-linecap="butt"/>
<line x1="368" y1="503.3" x2="389.6" y2="503.3" stroke="#000" stroke-width="1.2" stroke-linecap="butt"/>
<text transform="translate(460.7 519.7) scale(0.9346 1)" font-size="9.84" text-anchor="middle" font-weight="bold" fill="#000" stroke="#000" stroke-width="0.35" >*</text>
<line x1="445" y1="520.2" x2="475" y2="520.2" stroke="#000" stroke-width="1.2" stroke-linecap="butt"/>
<text transform="translate(473.5 532.4) scale(0.9346 1)" font-size="7.38" text-anchor="end" font-weight="bold" font-style="italic" fill="#000" stroke="#000" stroke-width="0.35" >p=0.057</text>
<line x1="453.2" y1="533.7" x2="473.9" y2="533.7" stroke="#000" stroke-width="1.1" stroke-linecap="butt"/>
<line x1="445" y1="538" x2="465" y2="538" stroke="#000" stroke-width="1.2" stroke-linecap="butt"/>
<line x1="462" y1="541.8" x2="473.7" y2="541.8" stroke="#000" stroke-width="1.2" stroke-linecap="butt"/>
<text transform="translate(498 492.8) scale(0.9346 1)" font-size="9.84" text-anchor="middle" font-weight="bold" fill="#000" stroke="#000" stroke-width="0.35" >*</text>
<line x1="483" y1="493.3" x2="513" y2="493.3" stroke="#000" stroke-width="1.2" stroke-linecap="butt"/>
<text transform="translate(511.5 505) scale(0.9346 1)" font-size="7.38" text-anchor="end" font-weight="bold" font-style="italic" fill="#000" stroke="#000" stroke-width="0.35" >p=0.057</text>
<line x1="492" y1="507" x2="511.9" y2="507" stroke="#000" stroke-width="1.1" stroke-linecap="butt"/>
<line x1="483" y1="511.3" x2="504.2" y2="511.3" stroke="#000" stroke-width="1.2" stroke-linecap="butt"/>
<line x1="500" y1="516.3" x2="511.7" y2="516.3" stroke="#000" stroke-width="1.2" stroke-linecap="butt"/>
<text transform="translate(337.6 644.0) scale(0.9346 1)" font-size="9.84" text-anchor="middle" font-weight="bold" fill="#000" stroke="#000" stroke-width="0.35" >*</text>
<line x1="332.5" y1="644.7" x2="344" y2="644.7" stroke="#000" stroke-width="1.2" stroke-linecap="butt"/>
<text transform="translate(349.2 636.7) scale(0.9346 1)" font-size="9.84" text-anchor="middle" font-weight="bold" fill="#000" stroke="#000" stroke-width="0.35" >*</text>
<line x1="344" y1="637.4" x2="357.5" y2="637.4" stroke="#000" stroke-width="1.2" stroke-linecap="butt"/>
<text transform="translate(376.5 709.5) scale(0.9346 1)" font-size="9.84" text-anchor="middle" font-weight="bold" fill="#000" stroke="#000" stroke-width="0.35" >*</text>
<line x1="369.5" y1="709.9" x2="382.5" y2="709.9" stroke="#000" stroke-width="1.2" stroke-linecap="butt"/>
<text transform="translate(382.5 701) scale(0.9346 1)" font-size="7.38" text-anchor="start" font-weight="bold" font-style="italic" fill="#000" stroke="#000" stroke-width="0.35" >p=0.06</text>
<line x1="383.5" y1="702.7" x2="397" y2="702.7" stroke="#000" stroke-width="1.1" stroke-linecap="butt"/>
<text transform="translate(417 751.9000000000001) scale(0.9346 1)" font-size="9.84" text-anchor="middle" font-weight="bold" fill="#000" stroke="#000" stroke-width="0.35" >**</text>
<line x1="410" y1="752.6" x2="423.5" y2="752.6" stroke="#000" stroke-width="1.2" stroke-linecap="butt"/>
<text transform="translate(453.7 744.0) scale(0.9346 1)" font-size="9.84" text-anchor="middle" font-weight="bold" fill="#000" stroke="#000" stroke-width="0.35" >**</text>
<line x1="447" y1="744.6" x2="460" y2="744.6" stroke="#000" stroke-width="1.2" stroke-linecap="butt"/>
<text transform="translate(467.5 738.3000000000001) scale(0.9346 1)" font-size="9.84" text-anchor="middle" font-weight="bold" fill="#000" stroke="#000" stroke-width="0.35" >**</text>
<line x1="460.5" y1="738.9" x2="473.5" y2="738.9" stroke="#000" stroke-width="1.2" stroke-linecap="butt"/>
<text transform="translate(0.5 586.8) scale(0.9346 1)" font-size="21.4" text-anchor="start" font-weight="normal" fill="#000" stroke="#000" stroke-width="0.6" >F</text>
<text transform="translate(74.8 595.5) scale(0.9346 1)" font-size="9.74" text-anchor="middle" font-weight="normal" fill="#000" stroke="#000" stroke-width="0.65" >WT pDCs</text>
<text transform="translate(155 595.5) scale(0.9346 1)" font-size="9.74" text-anchor="middle" font-weight="normal" fill="#000" stroke="#000" stroke-width="0.65" >PD-L1<tspan font-size="5.5" dy="-3.2">-/-</tspan><tspan dy="3.2"> pDCs</tspan></text>
<path d="M58.0 657.9 L58.6 657.5 L59.2 658.4 L59.8 657.2 L60.4 658.1 L61.0 657.6 L61.6 656.9 L62.2 657.8 L62.8 656.7 L63.4 657.4 L64.0 656.6 L64.6 656.4 L65.2 656.8 L65.8 657.4 L66.4 655.7 L67.0 655.7 L67.6 656.3 L68.2 656.6 L68.8 655.7 L69.4 655.0 L70.0 656.0 L70.7 652.9 L71.3 653.4 L72.0 651.1 L72.7 649.6 L73.3 648.4 L74.0 647.6 L74.6 646.2 L75.2 642.6 L75.8 641.0 L76.4 638.7 L77.0 635.7 L77.7 633.8 L78.3 630.5 L79.0 628.1 L79.6 627.4 L80.2 627.4 L80.9 625.9 L81.5 624.6 L82.1 624.2 L82.8 622.9 L83.4 621.6 L84.0 621.6 L84.7 619.1 L85.3 615.8 L86.0 614.1 L86.7 612.1 L87.3 610.8 L88.0 608.5 L88.7 606.1 L89.5 606.0 L90.2 602.7 L91.1 606.1 L92.0 609.5 L92.7 611.3 L93.3 615.0 L94.0 617.1 L94.6 621.3 L95.2 624.5 L95.9 627.1 L96.5 630.8 L97.1 633.4 L97.8 637.9 L98.4 641.4 L99.0 645.2 L99.7 647.9 L100.3 651.7 L101.0 654.9 L101.7 655.4 L102.3 657.2 L103.0 657.4 L103.6 658.7 L104.2 658.6 L104.8 659.3 L105.4 658.9 L106.0 658.3 Z" fill="#dedede" stroke="none"/>
<path d="M58.0 657.9 L58.6 657.5 L59.2 658.4 L59.8 657.2 L60.4 658.1 L61.0 657.6 L61.6 656.9 L62.2 657.8 L62.8 656.7 L63.4 657.4 L64.0 656.6 L64.6 656.4 L65.2 656.8 L65.8 657.4 L66.4 655.7 L67.0 655.7 L67.6 656.3 L68.2 656.6 L68.8 655.7 L69.4 655.0 L70.0 656.0 L70.7 652.9 L71.3 653.4 L72.0 651.1 L72.7 649.6 L73.3 648.4 L74.0 647.6 L74.6 646.2 L75.2 642.6 L75.8 641.0 L76.4 638.7 L77.0 635.7 L77.7 633.8 L78.3 630.5 L79.0 628.1 L79.6 627.4 L80.2 627.4 L80.9 625.9 L81.5 624.6 L82.1 624.2 L82.8 622.9 L83.4 621.6 L84.0 621.6 L84.7 619.1 L85.3 615.8 L86.0 614.1 L86.7 612.1 L87.3 610.8 L88.0 608.5 L88.7 606.1 L89.5 606.0 L90.2 602.7 L91.1 606.1 L92.0 609.5 L92.7 611.3 L93.3 615.0 L94.0 617.1 L94.6 621.3 L95.2 624.5 L95.9 627.1 L96.5 630.8 L97.1 633.4 L97.8 637.9 L98.4 641.4 L99.0 645.2 L99.7 647.9 L100.3 651.7 L101.0 654.9 L101.7 655.4 L102.3 657.2 L103.0 657.4 L103.6 658.7 L104.2 658.6 L104.8 659.3 L105.4 658.9 L106.0 658.3" fill="none" stroke="#777" stroke-width="1.5" stroke-linejoin="round"/>
<path d="M54.5 631.3 L55.2 630.1 L56.0 629.5 L56.7 627.8 L57.3 629.5 L58.0 628.9 L58.7 627.1 L59.3 625.3 L60.0 625.9 L60.7 622.8 L61.3 622.2 L62.0 621.7 L62.7 621.2 L63.3 616.7 L64.0 615.8 L64.7 614.8 L65.3 614.6 L66.0 613.0 L66.8 610.7 L67.5 606.3 L68.2 607.7 L69.0 608.5 L69.8 607.5 L70.5 605.0 L71.2 606.1 L72.0 610.0 L72.8 615.1 L73.5 620.1 L74.2 627.5 L75.0 634.3 L75.7 637.6 L76.3 641.1 L77.0 646.7 L77.7 649.2 L78.3 652.5 L79.0 656.4 L79.7 656.7 L80.3 657.2 L81.0 658.7 L81.6 658.9 L82.2 656.9 L82.8 659.6 L83.4 659.2 L84.0 658.3" fill="none" stroke="#000" stroke-width="1.5" stroke-linejoin="round"/>
<path d="M123.8 658.3 L123.8 615.7 L124.5 614.6 L125.3 612.9 L126.0 611.9 L126.7 610.7 L127.4 610.9 L128.1 609.1 L128.8 608.4 L129.5 608.0 L130.2 607.1 L131.0 606.7 L131.7 605.5 L132.4 604.5 L133.1 603.8 L134.2 607.6 L134.9 606.4 L135.6 604.1 L136.2 606.4 L136.9 606.7 L137.5 606.7 L138.2 606.4 L139.0 606.0 L140.0 611.0 L140.7 616.3 L141.3 623.3 L142.0 629.3 L142.7 634.1 L143.3 638.7 L144.0 642.5 L144.6 647.0 L145.4 650.8 L146.2 654.0 L146.8 656.3 L147.5 656.4 L148.1 658.3 Z" fill="#dedede" stroke="none"/>
<path d="M123.8 615.7 L124.5 614.6 L125.3 612.9 L126.0 611.9 L126.7 610.7 L127.4 610.9 L128.1 609.1 L128.8 608.4 L129.5 608.0 L130.2 607.1 L131.0 606.7 L131.7 605.5 L132.4 604.5 L133.1 603.8 L134.2 607.6 L134.9 606.4 L135.6 604.1 L136.2 606.4 L136.9 606.7 L137.5 606.7 L138.2 606.4 L139.0 606.0 L140.0 611.0 L140.7 616.3 L141.3 623.3 L142.0 629.3 L142.7 634.1 L143.3 638.7 L144.0 642.5 L144.6 647.0 L145.4 650.8 L146.2 654.0 L146.8 656.3 L147.5 656.4 L148.1 658.3" fill="none" stroke="#777" stroke-width="1.5" stroke-linejoin="round"/>
<path d="M123.8 637.6 L124.4 638.1 L125.0 637.2 L125.7 636.4 L126.3 636.3 L126.9 635.3 L127.6 635.1 L128.2 634.8 L128.9 633.9 L129.5 633.0 L130.2 631.8 L130.8 631.2 L131.4 629.9 L132.1 629.3 L132.7 628.0 L133.3 627.1 L134.0 625.5 L134.6 624.3 L135.3 622.5 L136.1 620.3 L136.8 617.8 L137.5 615.3 L138.1 613.1 L138.8 610.8 L139.4 608.0 L140.4 604.4 L141.3 609.1 L142.0 613.5 L142.7 618.3 L143.4 625.3 L144.2 632.1 L144.9 637.0 L145.5 641.8 L146.2 645.7 L146.8 649.1 L147.5 652.0 L148.1 654.9 L148.9 655.6 L149.6 656.7 L150.4 658.0 L151.1 658.0 L151.7 658.0 L152.3 658.4 L153.0 658.3" fill="none" stroke="#000" stroke-width="1.6" stroke-linejoin="round"/>
<rect x="54.00" y="601.50" width="59.00" height="57.20" fill="none" stroke="#000" stroke-width="1.3"/>
<rect x="123.00" y="601.50" width="58.80" height="57.20" fill="none" stroke="#000" stroke-width="1.3"/>
<line x1="53" y1="602" x2="53" y2="658" stroke="#000" stroke-width="1.2" stroke-dasharray="0.7 2.1"/>
<line x1="54" y1="659.6" x2="112.8" y2="659.6" stroke="#000" stroke-width="1" stroke-dasharray="0.7 2.3"/>
<line x1="122" y1="602" x2="122" y2="658" stroke="#000" stroke-width="1.2" stroke-dasharray="0.7 2.1"/>
<line x1="123" y1="659.6" x2="181.8" y2="659.6" stroke="#000" stroke-width="1" stroke-dasharray="0.7 2.3"/>
<text x="50.6" y="664.3" font-size="6.9" text-anchor="start" font-weight="normal" transform="rotate(-90 50.6 664.3)" fill="#000" stroke="#000" stroke-width="0.5" >% of max</text>
<line x1="47" y1="633.5" x2="47" y2="618" stroke="#000" stroke-width="1.4" stroke-linecap="butt"/>
<path d="M43.6 621.5 L47 613.8 L50.4 621.5 Z" fill="#000"/>
<text transform="translate(55.5 669) scale(0.9346 1)" font-size="7.81" text-anchor="start" font-weight="normal" fill="#000" stroke="#000" stroke-width="0.5" >PD-L1</text>
<line x1="76.5" y1="666.7" x2="98" y2="666.7" stroke="#000" stroke-width="1.4" stroke-linecap="butt"/>
<path d="M95.5 663.5 L105.8 666.7 L95.5 669.9 Z" fill="#000"/>
<rect x="44.80" y="674.00" width="11.60" height="4.60" fill="#fff" stroke="#000" stroke-width="1.8"/>
<rect x="44.80" y="681.20" width="11.60" height="4.40" fill="#a8a8a8" stroke="#666" stroke-width="1.6"/>
<text transform="translate(58.5 678.3) scale(0.9346 1)" font-size="7.49" text-anchor="start" font-weight="normal" fill="#000" stroke="#000" stroke-width="0.5" >Isotype</text>
<text transform="translate(58.5 685.8) scale(0.9346 1)" font-size="7.49" text-anchor="start" font-weight="normal" fill="#000" stroke="#000" stroke-width="0.5" >anti-PD-L1</text>
</svg>
</body></html>
